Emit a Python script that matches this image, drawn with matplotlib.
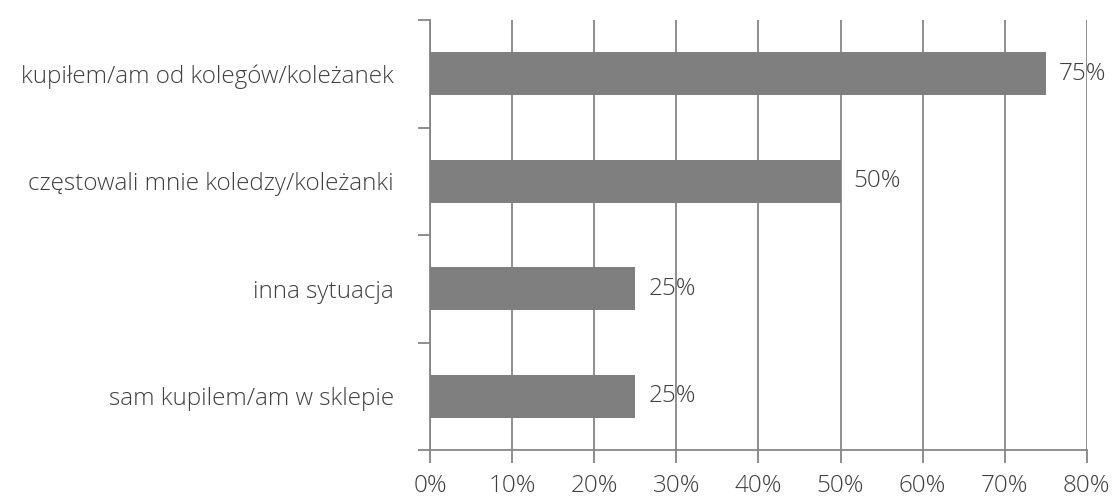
import numpy as np
import matplotlib.pyplot as plt

categories = ['kupiłem/am od kolegów/koleżanek',
              'częstowali mnie koledzy/koleżanki',
              'inna sytuacja',
              'sam kupilem/am w sklepie']
values = [75, 50, 25, 25]
xticks = [0, 10, 20, 30, 40, 50, 60, 70, 80]

plt.rcParams['font.family'] = ['Open Sans', 'DejaVu Sans']
plt.rcParams['font.weight'] = 'light'

fig = plt.figure(figsize=(11.17, 5), dpi=100)
ax = fig.add_axes([0.385, 0.1, 0.588, 0.86])

gray = '#868686'
txt = '#404040'
fs = 17.5
y = np.arange(len(categories))[::-1]
ax.barh(y, values, height=0.4, color='#7f7f7f', zorder=3)
for yi, v in zip(y, values):
    ax.text(v + 1.6, yi, f'{v}%', va='center', ha='left', fontsize=fs, color=txt, zorder=4)

ax.set_xlim(0, 80)
ax.set_ylim(-0.5, len(categories) - 0.5)
ax.set_xticks(xticks)
ax.set_xticklabels([f'{t}%' for t in xticks], fontsize=fs, color=txt)
ax.set_yticks(y)
ax.set_yticklabels(categories, fontsize=fs, color=txt)
ax.set_yticks(np.arange(-0.5, len(categories), 1), minor=True)
ax.tick_params(axis='y', which='major', length=0, pad=26)
ax.tick_params(axis='y', which='minor', length=9, color=gray, width=1.3)
ax.tick_params(axis='x', length=9, color=gray, width=1.3, pad=8)
ax.grid(axis='x', color=gray, linewidth=1.3, zorder=0)
for s in ['top', 'right']:
    ax.spines[s].set_visible(False)
for s in ['left', 'bottom']:
    ax.spines[s].set_color(gray)
    ax.spines[s].set_linewidth(1.3)

fig.savefig('out.png', dpi=100)
